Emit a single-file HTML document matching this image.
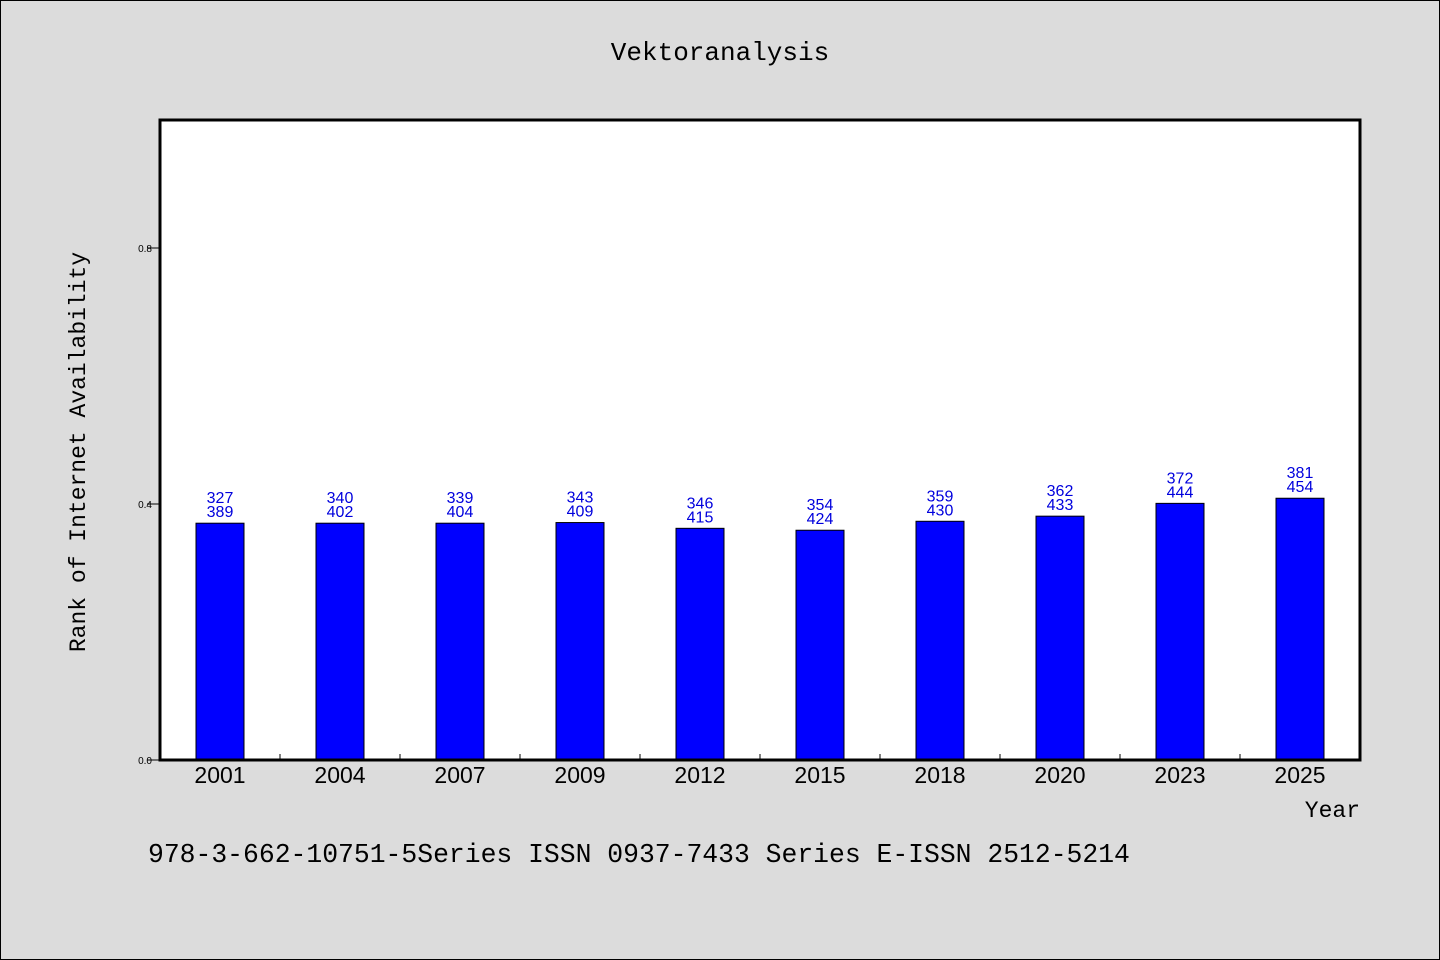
<!DOCTYPE html>
<html><head><meta charset="utf-8"><style>
body{margin:0;background:#dcdcdc;}
svg{display:block;font-family:"Liberation Sans",sans-serif;}
.mono{font-family:"Liberation Mono",monospace;}
</style></head><body>
<svg id="chart" width="1440" height="960">
<rect x="0.5" y="0.5" width="1439" height="959" fill="#dcdcdc" stroke="#000"/>
<text class="mono" x="720" y="60" text-anchor="middle" font-size="26">Vektoranalysis</text>
<rect x="160" y="120" width="1200" height="640" fill="#fff"/>
<g id="bars"></g>
<rect x="160" y="120" width="1200" height="640" fill="none" stroke="#000" stroke-width="3"/>
<text class="mono" transform="translate(85,452) rotate(-90)" text-anchor="middle" font-size="23">Rank of Internet Availability</text>
<text class="mono" x="1360" y="817" text-anchor="end" font-size="23">Year</text>
<text class="mono" x="148" y="862" font-size="26.4">978-3-662-10751-5Series ISSN 0937-7433 Series E-ISSN 2512-5214</text>
</svg>
<script>
const categories=["2001","2004","2007","2009","2012","2015","2018","2020","2023","2025"];
const values=[0.370,0.370,0.370,0.371,0.362,0.359,0.373,0.381,0.401,0.409];
const labelsTop=["327","340","339","343","346","354","359","362","372","381"];
const labelsBottom=["389","402","404","409","415","424","430","433","444","454"];
const yTicks=[0,0.4,0.8];
const yTickLabels=["0.0","0.4","0.8"];
const NS="http://www.w3.org/2000/svg";
const g=document.getElementById('bars');
const x0=160,plotW=1200,y0=760,yMax=1.0,plotH=640;
const band=plotW/categories.length;
const xs=i=>x0+band*(i+0.5);
const ys=v=>y0-v/yMax*plotH;
function mk(t,a){const e=document.createElementNS(NS,t);for(const k in a)e.setAttribute(k,a[k]);g.appendChild(e);return e;}
yTicks.forEach((v,i)=>{
 const l=mk('line',{x1:147,x2:160,y1:ys(v),y2:ys(v),stroke:'#000'});
 
 
 const t=mk('text',{x:152,y:ys(v)+4,'text-anchor':'end','font-size':10});
 t.textContent=yTickLabels[i];
 
 
});
for(let i=1;i<categories.length;i++){
 const l=mk('line',{x1:x0+band*i,x2:x0+band*i,y1:y0,y2:y0-6,stroke:'#000'});
 
 
}
categories.forEach((c,i)=>{
 const cx=xs(i),y=ys(values[i]);
 const r=mk('rect',{x:cx-24,y:y,width:48,height:y0-y,fill:'#0000ff',stroke:'#000','stroke-width':1});
 
 
 const t1=mk('text',{x:cx,y:y-20,'text-anchor':'middle','font-size':16,fill:'#0000dd'});
 t1.textContent=labelsTop[i];
 
 
 const t2=mk('text',{x:cx,y:y-6,'text-anchor':'middle','font-size':16,fill:'#0000dd'});
 t2.textContent=labelsBottom[i];
 
 
 const xl=mk('text',{x:cx,y:783,'text-anchor':'middle','font-size':23});
 xl.textContent=c;
 
 
});
</script>
</body></html>
